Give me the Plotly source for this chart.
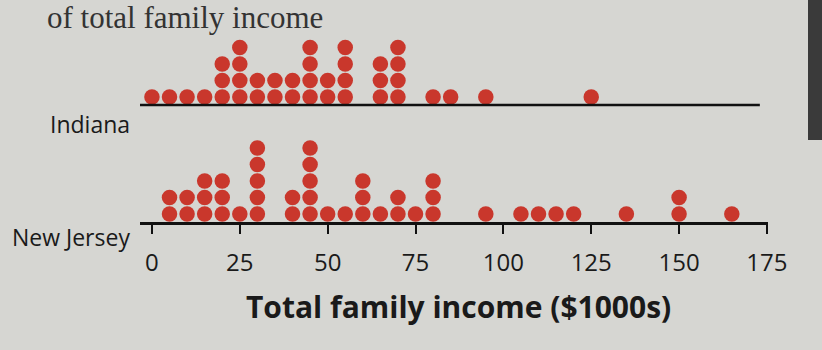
import plotly.graph_objects as go

# Dot plot data: income value ($1000s) and number of families at that value
indiana_values = [0, 5, 10, 15, 20, 25, 30, 35, 40, 45, 50, 55, 65, 70, 80, 85, 95, 125]
indiana_counts = [1, 1, 1, 1, 3, 4, 2, 2, 2, 4, 2, 4, 3, 4, 1, 1, 1, 1]

nj_values = [5, 10, 15, 20, 25, 30, 40, 45, 50, 55, 60, 65, 70, 75, 80, 95, 105, 110, 115, 120, 135, 150, 165]
nj_counts = [2, 2, 3, 3, 1, 5, 2, 5, 1, 1, 3, 1, 2, 1, 3, 1, 1, 1, 1, 1, 1, 2, 1]

tick_vals = [0, 25, 50, 75, 100, 125, 150, 175]
x_title = "Total family income ($1000s)"
row_labels = ["Indiana", "New Jersey"]

DOT = "#c9372c"
BG = "#d6d6d2"
INDIANA_BASE = 7.09   # baseline of Indiana row (in dot-row units)
NJ_BASE = 0.0
OFFSET = 0.485
PLOT_H = 212


def stack(values, counts, base):
    xs, ys = [], []
    for v, c in zip(values, counts):
        for k in range(c):
            xs.append(v)
            ys.append(base + OFFSET + k)
    return xs, ys


def py(pixel_y):
    # convert a pixel row of the page to paper coordinates
    return (222 - pixel_y) / PLOT_H


ix, iy = stack(indiana_values, indiana_counts, INDIANA_BASE)
nx, ny = stack(nj_values, nj_counts, NJ_BASE)

fig = go.Figure()
for xs, ys in [(ix, iy), (nx, ny)]:
    fig.add_trace(go.Scatter(
        x=xs, y=ys, mode="markers",
        marker=dict(size=15.5, color=DOT, line=dict(width=0)),
        showlegend=False, hoverinfo="x",
    ))

fig.update_layout(
    width=822, height=350,
    margin=dict(l=140, r=54, t=10, b=128),
    paper_bgcolor=BG, plot_bgcolor=BG,
    font=dict(family="Open Sans, Noto Sans, sans-serif", color="#1a1a1a"),
    xaxis=dict(
        range=[-3.4, 175.3], showgrid=False, zeroline=False,
        showline=True, linecolor="#111", linewidth=2.5,
        ticks="outside", ticklen=9, tickwidth=2, tickcolor="#111",
        tickvals=tick_vals, ticktext=[str(t) for t in tick_vals],
        tickfont=dict(size=24, color="#1a1a1a"),
        ticklabelstandoff=8,
    ),
    yaxis=dict(range=[0, 12.85], visible=False, showgrid=False, zeroline=False),
    shapes=[
        dict(type="line", xref="paper", yref="y", x0=0, x1=0.987,
             y0=INDIANA_BASE, y1=INDIANA_BASE, line=dict(color="#111", width=2.5)),
        dict(type="rect", xref="paper", yref="paper", x0=(808 - 140) / 628, x1=(822 - 140) / 628,
             y0=py(140), y1=py(0),
             fillcolor="#3a3a3a", line=dict(width=0), layer="above"),
    ],
    annotations=[
        dict(text=row_labels[0], xref="paper", yref="paper", x=-0.012, y=py(124),
             xanchor="right", yanchor="middle", showarrow=False,
             font=dict(size=23, color="#1a1a1a")),
        dict(text=row_labels[1], xref="paper", yref="paper", x=-0.012, y=py(237),
             xanchor="right", yanchor="middle", showarrow=False,
             font=dict(size=23, color="#1a1a1a")),
        dict(text="<b>" + x_title + "</b>", xref="paper", yref="paper",
             x=(458 - 140) / 628, y=py(306),
             xanchor="center", yanchor="middle", showarrow=False,
             font=dict(size=30, color="#1a1a1a")),
        dict(text="of total family income", xref="paper", yref="paper",
             x=(45 - 140) / 628, y=py(-2),
             xanchor="left", yanchor="top", showarrow=False,
             font=dict(size=31, family="Liberation Serif, DejaVu Serif, serif", color="#333")),
    ],
)

fig.write_html("out.html")
